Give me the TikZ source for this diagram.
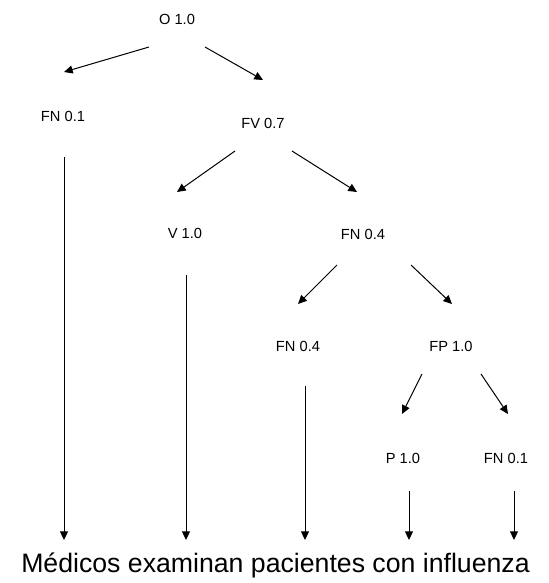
\documentclass[tikz,border=0pt]{standalone}
\usepackage{fontspec}
\setmainfont{Liberation Sans}
\usetikzlibrary{arrows.meta}
\begin{document}
\begin{tikzpicture}[x=0.75pt,y=-0.75pt,
  lbl/.style={inner sep=0pt,font=\fontsize{11}{13}\selectfont},
  arr/.style={draw,line width=0.75pt,-{Triangle[length=6.5pt,width=6pt]}}]
\useasboundingbox (0,0) rectangle (549,583);
% tree labels
\node[lbl] (o)   at (177,19)  {O 1.0};
\node[lbl] (fna) at (63,116)  {FN 0.1};
\node[lbl] (fv)  at (263,123) {FV 0.7};
\node[lbl] (v)   at (185,233) {V 1.0};
\node[lbl] (fnb) at (363,234) {FN 0.4};
\node[lbl] (fnc) at (298,346) {FN 0.4};
\node[lbl] (fp)  at (451,346) {FP 1.0};
\node[lbl] (p)   at (403,458) {P 1.0};
\node[lbl] (fnd) at (506,458) {FN 0.1};
\node[inner sep=0pt,anchor=base,font=\fontsize{20}{24}\selectfont] (bot) at (275.5,572)
  {Médicos examinan pacientes con influenza};
% branch end points
\coordinate (o1) at (149,47);  \coordinate (a1) at (64,72);
\coordinate (o2) at (205,47);  \coordinate (a2) at (263,80);
\coordinate (v1) at (235,151); \coordinate (b1) at (177,192);
\coordinate (v2) at (292,151); \coordinate (b2) at (357,192);
\coordinate (n1) at (337,265); \coordinate (c1) at (298,304);
\coordinate (n2) at (411,265); \coordinate (c2) at (452,304);
\coordinate (f1) at (422,374); \coordinate (d1) at (402,414);
\coordinate (f2) at (481,374); \coordinate (d2) at (508,414);
% branches
\draw[arr] (o1) -- (a1);
\draw[arr] (o2) -- (a2);
\draw[arr] (v1) -- (b1);
\draw[arr] (v2) -- (b2);
\draw[arr] (n1) -- (c1);
\draw[arr] (n2) -- (c2);
\draw[arr] (f1) -- (d1);
\draw[arr] (f2) -- (d2);
% leaves down to the caption
\coordinate (e1) at (64,157);  \coordinate (g1) at (64,540);
\coordinate (e2) at (186,275); \coordinate (g2) at (186,540);
\coordinate (e3) at (305,386); \coordinate (g3) at (305,540);
\coordinate (e4) at (409,491); \coordinate (g4) at (409,540);
\coordinate (e5) at (514,491); \coordinate (g5) at (514,540);
\draw[arr] (e1) -- (g1);
\draw[arr] (e2) -- (g2);
\draw[arr] (e3) -- (g3);
\draw[arr] (e4) -- (g4);
\draw[arr] (e5) -- (g5);
\end{tikzpicture}
\end{document}
